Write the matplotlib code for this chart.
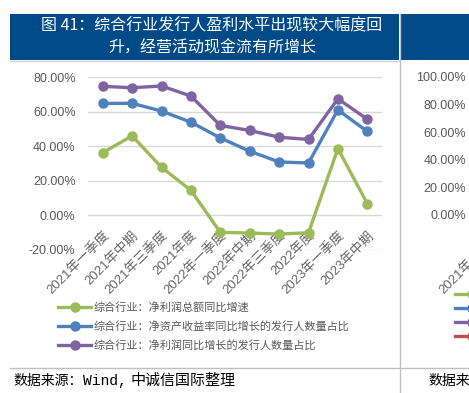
import numpy as np
import matplotlib
matplotlib.use("Agg")
import matplotlib.pyplot as plt
from matplotlib.patches import Rectangle
from matplotlib.lines import Line2D

plt.rcParams['font.family'] = ['Liberation Sans', 'Noto Sans CJK SC', 'DejaVu Sans']

W, H = 469, 393

# data
periods = ["2021年一季度", "2021年中期", "2021年三季度", "2021年度",
           "2022年一季度", "2022年中期", "2022年三季度", "2022年度",
           "2023年一季度", "2023年中期"]
profit_growth = [36.2, 46.0, 27.8, 14.5, -9.8, -10.2, -10.8, -10.0, 38.6, 6.8]
roe_up_share = [64.7, 64.8, 60.3, 53.9, 44.8, 37.1, 30.9, 30.3, 61.0, 48.5]
profit_up_share = [74.6, 73.8, 74.8, 69.0, 52.0, 49.1, 45.2, 43.9, 67.4, 55.6]
series_names = ["综合行业：净利润总额同比增速",
                "综合行业：净资产收益率同比增长的发行人数量占比",
                "综合行业：净利润同比增长的发行人数量占比"]
left_yticks = [-20, 0, 20, 40, 60, 80]
right_yticks = [0, 20, 40, 60, 80, 100]
right_names = ["综合行业：经营活动现金流净额同比增速",
               "综合行业：经营活动现金流净额为正的发行人占比",
               "综合行业：经营活动现金流净额同比增长的发行人占比",
               "综合行业：筹资活动现金流净额为正的发行人占比"]

title = "图 41：综合行业发行人盈利水平出现较大幅度回\n升，经营活动现金流有所增长"
source_parts = ["数据来源：", "Wind,", "中诚信国际整理"]

green = "#9bbb59"
blue = "#4f81bd"
purple = "#8064a2"
red = "#c0504d"
navy = "#004a87"
grey_txt = "#595959"


def fx(px):
    return px / W


def fy(py):
    return 1 - py / H


fig = plt.figure(figsize=(W / 100, H / 100), dpi=100)

# title bands and frame lines
fig.patches.append(Rectangle((fx(10), fy(60)), fx(389), 46 / H, transform=fig.transFigure,
                             facecolor=navy, edgecolor="none"))
fig.patches.append(Rectangle((fx(401), fy(60)), fx(70), 46 / H, transform=fig.transFigure,
                             facecolor=navy, edgecolor="none"))
fig.add_artist(Line2D([fx(10), fx(399)], [fy(61), fy(61)], color="#c9d6e6", lw=1))
fig.add_artist(Line2D([fx(400), fx(400)], [fy(14), 0], color="#bfbfbf", lw=1))
fig.add_artist(Line2D([fx(10), 1], [fy(368), fy(368)], color="#bfbfbf", lw=1))
fig.text(fx(212), fy(37), title, color="white", fontsize=11.5, ha="center", va="center",
         family=["Noto Sans CJK SC"], linespacing=1.35)

# source lines
cjk = ["Noto Sans CJK SC", "DejaVu Sans"]
fig.text(fx(13), fy(381), source_parts[0], color="black", fontsize=10, ha="left", va="center",
         family=cjk)
fig.text(fx(83), fy(381), source_parts[1], color="black", fontsize=10.5, ha="left", va="center",
         family=["Liberation Mono"])
fig.text(fx(131), fy(381), source_parts[2], color="black", fontsize=10.8, ha="left", va="center",
         family=cjk)
fig.text(fx(428), fy(381), source_parts[0], color="black", fontsize=10, ha="left", va="center",
         family=cjk)

# left chart
ax = fig.add_axes([fx(88), fy(250), 294 / W, 173 / H])
x = np.arange(len(periods))
for vals, col, name in [(profit_growth, green, series_names[0]),
                        (roe_up_share, blue, series_names[1]),
                        (profit_up_share, purple, series_names[2])]:
    ax.plot(x, vals, color=col, lw=2.4, marker="o", ms=6.5, label=name, clip_on=False)
ax.set_xlim(-0.5, len(periods) - 0.5)
ax.set_ylim(-20, 80)
ax.set_yticks(left_yticks)
ax.set_yticklabels([f"{v:.2f}%" for v in left_yticks])
ax.yaxis.grid(True, color="#d9d9d9", lw=1)
ax.set_axisbelow(True)
for s in ["top", "right", "left"]:
    ax.spines[s].set_visible(False)
ax.spines["bottom"].set_position(("data", 0))
ax.spines["bottom"].set_color("none")
ax.set_xticks(x)
ax.set_xticklabels(periods, rotation=45, ha="right", va="top", rotation_mode="anchor")
ax.tick_params(axis="x", length=0, pad=10, labelsize=9.5, labelcolor="#666666")
ax.tick_params(axis="y", length=0, pad=9, labelsize=9, labelcolor=grey_txt)
ax.patch.set_alpha(0)
leg = ax.legend(loc="upper left", bbox_to_anchor=(fx(58), fy(302)), bbox_transform=fig.transFigure,
                frameon=False, fontsize=8, handlelength=3.0, handletextpad=0.2,
                labelspacing=0.72, borderpad=0, borderaxespad=0)
for t in leg.get_texts():
    t.set_color(grey_txt)

# right chart (mostly outside the crop)
ax2 = fig.add_axes([fx(470), fy(215), 294 / W, 138 / H])
for col, name in zip([green, blue, purple, red], right_names):
    ax2.plot([], [], color=col, lw=2.4, marker="o", ms=6.5, label=name)
ax2.set_xlim(-0.85, len(periods) - 0.85)
ax2.set_ylim(0, 100)
ax2.set_yticks(right_yticks)
ax2.set_yticklabels([f"{v:.2f}%" for v in right_yticks])
for s in ["top", "right", "left", "bottom"]:
    ax2.spines[s].set_visible(False)
ax2.set_xticks(x)
ax2.set_xticklabels(periods, rotation=45, ha="right", va="top", rotation_mode="anchor")
ax2.tick_params(axis="x", length=0, pad=10, labelsize=9.5, labelcolor="#666666")
ax2.tick_params(axis="y", length=0, pad=3, labelsize=9, labelcolor=grey_txt)
ax2.patch.set_alpha(0)
leg2 = ax2.legend(loc="upper left", bbox_to_anchor=(fx(455), fy(289)), bbox_transform=fig.transFigure,
                  frameon=False, fontsize=8, handlelength=3.0, handletextpad=0.3,
                  labelspacing=0.27, borderpad=0, borderaxespad=0)

fig.savefig("out.png", dpi=100)
